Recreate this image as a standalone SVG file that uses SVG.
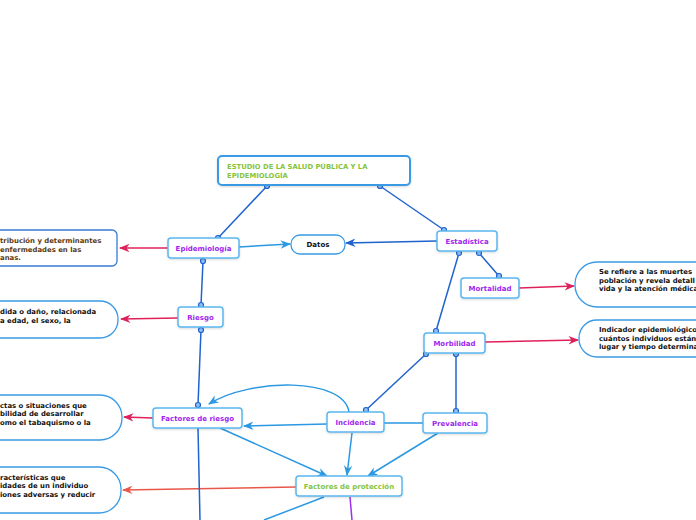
<svg xmlns="http://www.w3.org/2000/svg" width="696" height="520" viewBox="0 0 696 520">
<defs>
<style>
.node rect{fill:#fff;stroke:#5ab6ee;stroke-width:1.5}
.lbl{font-family:"DejaVu Sans",Verdana,sans-serif;font-weight:bold;font-size:7px;fill:#a01ff0;text-anchor:middle}
.desc{font-family:"DejaVu Sans",Verdana,sans-serif;font-weight:bold;font-size:6.9px;fill:#111}
.pill{fill:#fff;stroke:#3a9ae4;stroke-width:1.3}
.dk{stroke:#1f63cf;stroke-width:1.5;fill:none}
.lt{stroke:#2a98e2;stroke-width:1.5;fill:none}
.rd{stroke:#e0205a;stroke-width:1.5;fill:none}
.dot{fill:#8ec1f3;stroke:#1f63cf;stroke-width:1.2}
</style>
<marker id="ad" viewBox="0 0 10 10" refX="9" refY="5" markerWidth="7" markerHeight="7" orient="auto"><path d="M0,1 L10,5 L0,9 L3,5 z" fill="#1f63cf"/></marker>
<marker id="al" viewBox="0 0 10 10" refX="9" refY="5" markerWidth="7" markerHeight="7" orient="auto"><path d="M0,1 L10,5 L0,9 L3,5 z" fill="#2a98e2"/></marker>
<marker id="ar" viewBox="0 0 10 10" refX="9" refY="5" markerWidth="7" markerHeight="7" orient="auto"><path d="M0,1 L10,5 L0,9 L3,5 z" fill="#e0205a"/></marker>
<marker id="ao" viewBox="0 0 10 10" refX="9" refY="5" markerWidth="7" markerHeight="7" orient="auto"><path d="M0,1 L10,5 L0,9 L3,5 z" fill="#e8584a"/></marker>
<filter id="sh" x="-10%" y="-20%" width="120%" height="150%"><feDropShadow dx="0" dy="1" stdDeviation="1" flood-color="#000" flood-opacity="0.15"/></filter>
</defs>
<rect width="696" height="520" fill="#fff"/>

<g id="connectors">
<line class="dk" x1="267" y1="186" x2="218" y2="238"/>
<line class="dk" x1="380" y1="186" x2="444" y2="230"/>
<line class="lt" x1="239" y1="247" x2="290" y2="244" marker-end="url(#al)"/>
<line class="dk" x1="437" y1="241" x2="346" y2="243" marker-end="url(#ad)"/>
<line class="dk" x1="203" y1="261" x2="201" y2="305"/>
<line class="dk" x1="201" y1="330" x2="198" y2="405"/>
<line class="dk" x1="459" y1="253" x2="436" y2="331"/>
<line class="dk" x1="479" y1="253" x2="499" y2="276"/>
<line class="dk" x1="426" y1="354" x2="366" y2="410"/>
<line class="dk" x1="456" y1="354" x2="456" y2="411"/>
<line class="lt" x1="327" y1="424" x2="244" y2="426" marker-end="url(#al)"/>
<line class="lt" x1="423" y1="423" x2="384" y2="423"/>
<path class="lt" d="M349,412 C344,377 250,378 209,404" marker-end="url(#al)"/>
<line class="lt" x1="220" y1="428" x2="327" y2="476" marker-end="url(#al)"/>
<line class="lt" x1="352" y1="433" x2="347" y2="475" marker-end="url(#al)"/>
<line class="lt" x1="438" y1="433" x2="368" y2="476" marker-end="url(#al)"/>
<line x1="296" y1="487" x2="123" y2="490" stroke="#e8584a" stroke-width="1.5" marker-end="url(#ao)"/>
<line class="lt" x1="324" y1="497" x2="264" y2="520"/>
<line x1="350" y1="497" x2="352" y2="520" stroke="#a030f0" stroke-width="1.5"/>
<line class="dk" x1="198" y1="428" x2="200" y2="520"/>
<line class="rd" x1="167" y1="248" x2="120" y2="248" marker-end="url(#ar)" marker-start="url(#ar)"/>
<line class="rd" x1="178" y1="318" x2="121" y2="319" marker-end="url(#ar)"/>
<line class="rd" x1="153" y1="418" x2="124" y2="417" marker-end="url(#ar)"/>
<line class="rd" x1="519" y1="288" x2="574" y2="286" marker-end="url(#ar)"/>
<line class="rd" x1="485" y1="342" x2="578" y2="340" marker-end="url(#ar)"/>
<circle class="dot" cx="267" cy="186" r="2.5"/>
<circle class="dot" cx="218" cy="238" r="2.5"/>
<circle class="dot" cx="380" cy="186" r="2.5"/>
<circle class="dot" cx="444" cy="230" r="2.5"/>
<circle class="dot" cx="203" cy="261" r="2.5"/>
<circle class="dot" cx="201" cy="305" r="2.5"/>
<circle class="dot" cx="201" cy="330" r="2.5"/>
<circle class="dot" cx="198" cy="405" r="2.5"/>
<circle class="dot" cx="459" cy="253" r="2.5"/>
<circle class="dot" cx="436" cy="331" r="2.5"/>
<circle class="dot" cx="479" cy="253" r="2.5"/>
<circle class="dot" cx="499" cy="276" r="2.5"/>
<circle class="dot" cx="426" cy="354" r="2.5"/>
<circle class="dot" cx="366" cy="410" r="2.5"/>
<circle class="dot" cx="456" cy="354" r="2.5"/>
<circle class="dot" cx="456" cy="411" r="2.5"/>
</g>

<g id="n-title"><rect x="218" y="156" width="192" height="29" rx="4" fill="#fff" stroke="#3a9ae4" stroke-width="2" filter="url(#sh)"/>
<text font-family="DejaVu Sans,Verdana,sans-serif" font-weight="bold" font-size="6.8" fill="#86c440"><tspan x="227" y="168.5">ESTUDIO DE LA SALUD PÚBLICA Y LA</tspan><tspan x="227" y="177.5">EPIDEMIOLOGÍA</tspan></text></g>

<g id="n-epi" class="node"><rect x="168" y="238" width="71" height="20" rx="3" filter="url(#sh)"/><text class="lbl" x="203.5" y="250.5">Epidemiología</text></g>
<g id="n-datos"><rect x="291" y="235" width="54" height="19" rx="9" fill="#fff" stroke="#3a9ae4" stroke-width="1.3"/><text class="lbl" x="318" y="247" style="fill:#111">Datos</text></g>
<g id="n-est" class="node"><rect x="437" y="231" width="60" height="20" rx="3" filter="url(#sh)"/><text class="lbl" x="467" y="243.5">Estadística</text></g>
<g id="n-mort" class="node"><rect x="461" y="278" width="58" height="20" rx="3" filter="url(#sh)"/><text class="lbl" x="490" y="290.5">Mortalidad</text></g>
<g id="n-riesgo" class="node"><rect x="178" y="307" width="45" height="20" rx="3" filter="url(#sh)"/><text class="lbl" x="200.5" y="319.5">Riesgo</text></g>
<g id="n-morb" class="node"><rect x="424" y="333" width="61" height="20" rx="3" filter="url(#sh)"/><text class="lbl" x="454.5" y="345.5">Morbilidad</text></g>
<g id="n-fr" class="node"><rect x="153" y="408" width="89" height="20" rx="3" filter="url(#sh)"/><text class="lbl" x="197.5" y="420.5">Factores de riesgo</text></g>
<g id="n-inc" class="node"><rect x="327" y="412" width="57" height="20" rx="3" filter="url(#sh)"/><text class="lbl" x="355.5" y="424.5">Incidencia</text></g>
<g id="n-prev" class="node"><rect x="423" y="413" width="64" height="20" rx="3" filter="url(#sh)"/><text class="lbl" x="455" y="425.5">Prevalencia</text></g>
<g id="n-fp" class="node"><rect x="296" y="476" width="106" height="20" rx="3" filter="url(#sh)"/><text class="lbl" x="349" y="488.5" style="fill:#86c440">Factores de protección</text></g>

<g id="d-epi"><rect x="-20" y="230" width="137" height="36" rx="5" fill="#fff" stroke="#3a7bd5" stroke-width="1.3"/>
<text class="desc" style="fill:#5c3a12"><tspan x="0" y="243">tribución y determinantes</tspan><tspan x="0" y="251.5">enfermedades en las</tspan><tspan x="0" y="260">anas.</tspan></text></g>
<g id="d-riesgo"><rect x="-40" y="301" width="158" height="37" rx="18" class="pill"/>
<text class="desc"><tspan x="0" y="314">dida o daño, relacionada</tspan><tspan x="0" y="322.5">a edad, el sexo, la</tspan></text></g>
<g id="d-fr"><rect x="-40" y="395" width="162" height="45" rx="22" class="pill"/>
<text class="desc"><tspan x="0" y="407.5">ctas o situaciones que</tspan><tspan x="0" y="416">bilidad de desarrollar</tspan><tspan x="0" y="424.5">omo el tabaquismo o la</tspan></text></g>
<g id="d-fp"><rect x="-40" y="467" width="161" height="46" rx="22" class="pill"/>
<text class="desc"><tspan x="0" y="479.5">racterísticas que</tspan><tspan x="0" y="488">idades de un individuo</tspan><tspan x="0" y="496.5">iones adversas y reducir</tspan></text></g>
<g id="d-mort"><rect x="575" y="262" width="160" height="45" rx="22" class="pill"/>
<text class="desc"><tspan x="599" y="274">Se refiere a las muertes</tspan><tspan x="599" y="282.5">población y revela detall</tspan><tspan x="599" y="291">vida y la atención médica</tspan></text></g>
<g id="d-morb"><rect x="579" y="320" width="160" height="37" rx="18" class="pill"/>
<text class="desc"><tspan x="599" y="332">Indicador epidemiológico</tspan><tspan x="599" y="340.5">cuántos individuos están</tspan><tspan x="599" y="349">lugar y tiempo determina</tspan></text></g>
</svg>
